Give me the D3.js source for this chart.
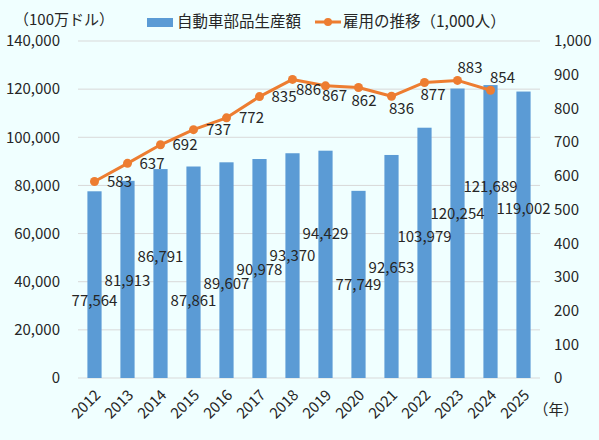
<!DOCTYPE html>
<html>
<head>
<meta charset="utf-8">
<script src="https://cdn.jsdelivr.net/npm/d3@7"></script>
<style>
  body { margin: 0; background: #F0FFFF; }
  text { font-family: "Noto Sans CJK JP", "Noto Sans", sans-serif; fill: #262626; }
</style>
</head>
<body>
<div id="chart"></div>
<script>
// 自動車部品生産額（100万ドル）と雇用の推移（1,000人）

var years = ["2012","2013","2014","2015","2016","2017","2018","2019","2020","2021","2022","2023","2024","2025"];
var production = [77564, 81913, 86791, 87861, 89607, 90978, 93370, 94429, 77749, 92653, 103979, 120254, 121689, 119002];
var employYears = ["2012","2013","2014","2015","2016","2017","2018","2019","2020","2021","2022","2023","2024"];
var employment = [583, 637, 692, 737, 772, 835, 886, 867, 862, 836, 877, 883, 854];
var leftTicks = [0, 20000, 40000, 60000, 80000, 100000, 120000, 140000];
var rightTicks = [0, 100, 200, 300, 400, 500, 600, 700, 800, 900, 1000];

// where the data labels sit (as in the original, they are scattered)
var barLabelAt = [32200, 40300, 50300, 32200, 39300, 45100, 50700, 60000, 38600, 45900, 58800, 68300, 79400, 70400];
var lineLabelShift = [[25,0],[24.5,0],[24.5,0],[25,0],[25,0],[24.5,0],[16,10],[9,10],[5.5,13],[10,12],[8.5,12.5],[12.5,-13],[12,-12]];

var svgWidth = 599;
var svgHeight = 440;

var margin = {top: 41, right: 59, bottom: 62, left: 78};
var width = svgWidth - margin.left - margin.right;
var height = svgHeight - margin.top - margin.bottom;

var svg = d3.select("#chart")
  .append("svg")
  .attr("width", svgWidth)
  .attr("height", svgHeight);

svg.append("rect")
  .attr("width", svgWidth)
  .attr("height", svgHeight)
  .attr("fill", "#F0FFFF");

var chartGroup = svg.append("g")
  .attr("transform", `translate(${margin.left}, ${margin.top})`);

var xScale = d3.scaleBand()
  .domain(years)
  .range([0, width])
  .paddingInner(0.57)
  .paddingOuter(0.285);

var yLeft = d3.scaleLinear().domain([0, 140000]).range([height, 0]);
var yRight = d3.scaleLinear().domain([0, 1000]).range([height, 0]);

var fmt = d3.format(",");

// gridlines
chartGroup.append("g")
  .selectAll("line")
  .data(leftTicks)
  .enter()
  .append("line")
  .attr("x1", 0)
  .attr("x2", width)
  .attr("y1", d => yLeft(d))
  .attr("y2", d => yLeft(d))
  .attr("stroke", "#D9D9D9")
  .attr("stroke-width", 1);

// left axis
var leftAxis = d3.axisLeft(yLeft).tickValues(leftTicks).tickFormat(fmt).tickSize(0).tickPadding(18);
chartGroup.append("g")
  .call(leftAxis)
  .call(g => g.select(".domain").remove())
  .selectAll("text")
  .attr("font-size", "15px");

// right axis
var rightAxis = d3.axisRight(yRight).tickValues(rightTicks).tickFormat(fmt).tickSize(0).tickPadding(14);
chartGroup.append("g")
  .attr("transform", `translate(${width}, 0)`)
  .call(rightAxis)
  .call(g => g.select(".domain").remove())
  .selectAll("text")
  .attr("font-size", "15px");

// bottom axis
var bottomAxis = d3.axisBottom(xScale).tickSize(0).tickPadding(0);
chartGroup.append("g")
  .attr("transform", `translate(0, ${height})`)
  .call(bottomAxis)
  .call(g => g.select(".domain").remove())
  .selectAll("text")
  .attr("font-size", "15px")
  .attr("text-anchor", "end")
  .attr("dx", 0)
  .attr("dy", 0)
  .attr("transform", "translate(7, 18) rotate(-45)");

// bars
chartGroup.append("g")
  .selectAll("rect")
  .data(production)
  .enter()
  .append("rect")
  .attr("x", (d, i) => xScale(years[i]))
  .attr("y", d => yLeft(d))
  .attr("width", xScale.bandwidth())
  .attr("height", d => height - yLeft(d))
  .attr("fill", "#5B9BD5");

// employment line
var line = d3.line()
  .x((d, i) => xScale(employYears[i]) + xScale.bandwidth() / 2)
  .y(d => yRight(d));

chartGroup.append("path")
  .datum(employment)
  .attr("d", line)
  .attr("fill", "none")
  .attr("stroke", "#ED7D31")
  .attr("stroke-width", 3)
  .attr("stroke-linejoin", "round");

chartGroup.append("g")
  .selectAll("circle")
  .data(employment)
  .enter()
  .append("circle")
  .attr("cx", (d, i) => xScale(employYears[i]) + xScale.bandwidth() / 2)
  .attr("cy", d => yRight(d))
  .attr("r", 4.5)
  .attr("fill", "#ED7D31");

// bar labels
chartGroup.append("g")
  .selectAll("text")
  .data(production)
  .enter()
  .append("text")
  .attr("x", (d, i) => xScale(years[i]) + xScale.bandwidth() / 2)
  .attr("y", (d, i) => yLeft(barLabelAt[i]))
  .attr("dy", "0.35em")
  .attr("text-anchor", "middle")
  .attr("font-size", "15px")
  .text(d => fmt(d));

// line labels
chartGroup.append("g")
  .selectAll("text")
  .data(employment)
  .enter()
  .append("text")
  .attr("x", (d, i) => xScale(employYears[i]) + xScale.bandwidth() / 2 + lineLabelShift[i][0])
  .attr("y", (d, i) => yRight(d) + lineLabelShift[i][1])
  .attr("dy", "0.35em")
  .attr("text-anchor", "middle")
  .attr("font-size", "15px")
  .text(d => fmt(d));

// unit labels
svg.append("text")
  .attr("x", 64)
  .attr("y", 20)
  .attr("dy", "0.35em")
  .attr("text-anchor", "middle")
  .attr("font-size", "15px")
  .text("（100万ドル）");

svg.append("text")
  .attr("x", 556)
  .attr("y", 410)
  .attr("dy", "0.35em")
  .attr("text-anchor", "middle")
  .attr("font-size", "15px")
  .text("（年）");

// legend
var legend = svg.append("g");
legend.append("rect")
  .attr("x", 147)
  .attr("y", 18)
  .attr("width", 26)
  .attr("height", 9)
  .attr("fill", "#5B9BD5");
legend.append("text")
  .attr("x", 177)
  .attr("y", 22)
  .attr("dy", "0.35em")
  .attr("font-size", "15.5px")
  .text("自動車部品生産額");

legend.append("line")
  .attr("x1", 315)
  .attr("x2", 341)
  .attr("y1", 22)
  .attr("y2", 22)
  .attr("stroke", "#ED7D31")
  .attr("stroke-width", 3);
legend.append("circle")
  .attr("cx", 328)
  .attr("cy", 22)
  .attr("r", 4)
  .attr("fill", "#ED7D31");
legend.append("text")
  .attr("x", 343)
  .attr("y", 22)
  .attr("dy", "0.35em")
  .attr("font-size", "15.5px")
  .text("雇用の推移（1,000人）");
</script>
</body>
</html>
